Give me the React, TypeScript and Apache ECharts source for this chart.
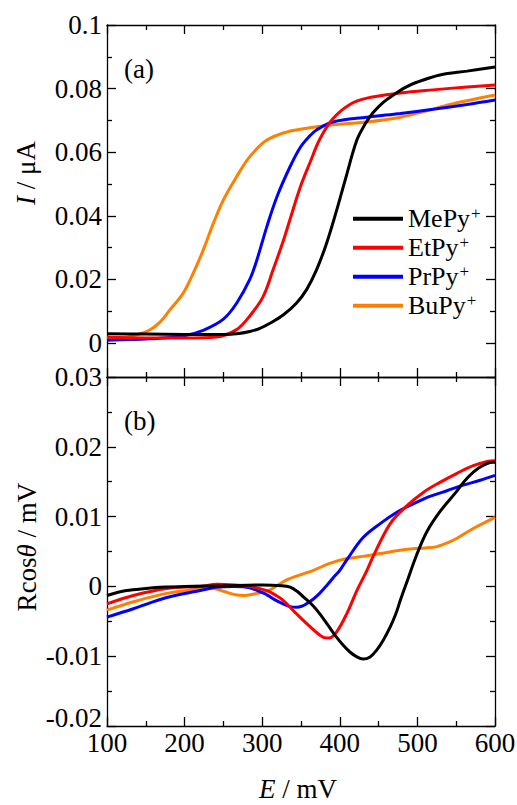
import React, { useEffect, useRef } from "react";
import * as echarts from "echarts";

// ---- Data ----
const seriesNames = ["MePy+", "EtPy+", "PrPy+", "BuPy+"];
const seriesColors = ["#000000", "#ff0000", "#0000ff", "#ff8000"];

// Panel (a): current I / µA vs E / mV
const mePyTopE = [100, 150, 200, 250, 270, 284, 297, 310, 327, 344, 357, 370, 383, 396, 407, 422, 433, 443, 456, 469, 484, 499, 529, 564, 600];
const mePyTopI = [0.0029, 0.0028, 0.0027, 0.0027, 0.003, 0.0036, 0.0046, 0.0062, 0.0088, 0.0125, 0.0167, 0.023, 0.0314, 0.0418, 0.0513, 0.0638, 0.069, 0.0725, 0.0757, 0.078, 0.0803, 0.082, 0.0843, 0.0855, 0.0868];

const etPyTopE = [100, 150, 200, 241, 267, 284, 301, 314, 327, 336, 349, 362, 374, 391, 413, 435, 478, 520, 564, 600];
const etPyTopI = [0.0018, 0.0016, 0.0016, 0.0019, 0.0042, 0.0085, 0.0145, 0.023, 0.032, 0.039, 0.049, 0.057, 0.064, 0.0705, 0.075, 0.077, 0.0786, 0.0796, 0.0805, 0.0811];

const prPyTopE = [100, 155, 198, 224, 250, 267, 284, 293, 306, 319, 336, 349, 360, 370, 391, 435, 478, 520, 564, 600];
const prPyTopI = [0.0009, 0.0013, 0.0022, 0.004, 0.0075, 0.0125, 0.02, 0.026, 0.0366, 0.046, 0.0555, 0.0615, 0.0648, 0.067, 0.0695, 0.071, 0.0722, 0.0735, 0.075, 0.0764];

const buPyTopE = [100, 125, 140, 155, 168, 181, 198, 211, 224, 237, 250, 267, 284, 306, 332, 349, 391, 435, 478, 512, 542, 570, 600];
const buPyTopI = [0.0012, 0.0018, 0.0027, 0.0041, 0.0065, 0.0104, 0.0156, 0.0219, 0.0292, 0.0376, 0.045, 0.0523, 0.0586, 0.0638, 0.0664, 0.0672, 0.0686, 0.0695, 0.071, 0.073, 0.075, 0.0765, 0.078];

// Panel (b): Rcos(theta) / mV vs E / mV
const mePyBotE = [100, 125, 150, 175, 200, 250, 300, 325, 336, 345, 353, 364, 374, 385, 396, 405, 413, 422, 430, 439, 447, 456, 465, 472, 478, 486, 499, 512, 529, 549, 564, 581, 597, 600];
const mePyBotR = [-0.0013, -0.0006, -0.0003, -0.0001, 0, 0.0001, 0.0002, 0.0001, -0.0001, -0.0007, -0.0015, -0.0026, -0.0039, -0.0056, -0.0073, -0.0085, -0.0094, -0.0101, -0.0104, -0.0101, -0.0092, -0.0077, -0.0058, -0.004, -0.002, 0.0005, 0.0045, 0.0078, 0.0107, 0.0134, 0.0155, 0.0171, 0.0178, 0.0178];

const etPyBotE = [100, 134, 177, 220, 242, 265, 284, 306, 318, 327, 344, 362, 379, 386, 396, 409, 422, 435, 443, 465, 487, 508, 529, 551, 572, 590, 600];
const etPyBotR = [-0.0025, -0.0013, -0.0003, 0, 0.0003, 0.0002, 0, -0.0006, -0.0013, -0.002, -0.0039, -0.0058, -0.0073, -0.0074, -0.0065, -0.0039, -0.0006, 0.0023, 0.0043, 0.009, 0.0116, 0.0135, 0.0149, 0.0162, 0.0173, 0.0179, 0.018];

const prPyBotE = [100, 134, 177, 220, 242, 263, 284, 306, 316, 327, 336, 344, 352, 357, 366, 374, 383, 392, 400, 409, 430, 452, 473, 494, 516, 538, 559, 581, 600];
const prPyBotR = [-0.0044, -0.0032, -0.0016, -0.0006, -0.0001, 0, -0.0002, -0.0012, -0.0019, -0.0025, -0.0029, -0.003, -0.0028, -0.0025, -0.0018, -0.001, 0.0001, 0.0013, 0.0023, 0.0038, 0.007, 0.009, 0.0106, 0.0118, 0.0129, 0.0137, 0.0145, 0.0152, 0.0159];

const buPyBotE = [100, 134, 177, 220, 237, 250, 265, 278, 293, 310, 331, 353, 366, 387, 409, 430, 452, 473, 494, 510, 525, 540, 551, 572, 600];
const buPyBotR = [-0.0034, -0.0022, -0.001, -0.0004, -0.0003, -0.0007, -0.0012, -0.0013, -0.001, -0.0005, 0.0009, 0.0018, 0.0023, 0.0033, 0.004, 0.0043, 0.0047, 0.0051, 0.0054, 0.0055, 0.0057, 0.0063, 0.0069, 0.0083, 0.0099];

// Axis tick values
const xTicks = { min: 100, max: 600, interval: 100 };
const topYTicks = { min: 0, max: 0.1, interval: 0.02 };
const botYTicks = { min: -0.02, max: 0.03, interval: 0.01 };

const topE = [mePyTopE, etPyTopE, prPyTopE, buPyTopE];
const topI = [mePyTopI, etPyTopI, prPyTopI, buPyTopI];
const botE = [mePyBotE, etPyBotE, prPyBotE, buPyBotE];
const botR = [mePyBotR, etPyBotR, prPyBotR, buPyBotR];

const FONT = "Liberation Serif, Times New Roman, serif";
const FS = 27;
const axisLineStyle = { color: "#000", width: 1.3 };

function pairs(xs: number[], ys: number[]) {
  return xs.map((x, i) => [x, ys[i]]);
}

export default function App() {
  const ref = useRef<HTMLDivElement>(null);
  useEffect(() => {
    if (!ref.current) return;
    const chart = echarts.init(ref.current, null, { renderer: "svg" });

    const gridBase = { left: 107, right: 22, containLabel: false, outerBoundsMode: "none" };

    const xBase = (gridIndex: number, position: string, labels: boolean) => ({
      type: "value",
      gridIndex,
      position,
      min: xTicks.min,
      max: xTicks.max,
      interval: xTicks.interval,
      axisLine: { show: true, onZero: false, lineStyle: axisLineStyle },
      axisTick: { show: true, inside: true, length: 9, lineStyle: axisLineStyle },
      minorTick: { show: true, splitNumber: 2, length: 5, lineStyle: axisLineStyle },
      splitLine: { show: false },
      axisLabel: {
        show: labels,
        color: "#000",
        fontFamily: FONT,
        fontSize: FS,
        margin: 3,
      },
    });

    const yBase = (
      gridIndex: number,
      position: string,
      t: { min: number; max: number; interval: number } | null,
      labels: boolean
    ) => ({
      type: "value",
      gridIndex,
      position,
      min: t ? t.min : 0,
      max: t ? t.max : 1,
      interval: t ? t.interval : 1,
      axisLine: { show: true, onZero: false, lineStyle: axisLineStyle },
      axisTick: { show: !!t, inside: true, length: 9, lineStyle: axisLineStyle },
      minorTick: { show: !!t, splitNumber: 2, length: 5, lineStyle: axisLineStyle },
      splitLine: { show: false },
      axisLabel: {
        show: labels,
        color: "#000",
        fontFamily: FONT,
        fontSize: FS,
        margin: 5,
        formatter: (v: number) => {
          const s = Math.abs(v) < 1e-9 ? "0" : String(parseFloat(v.toFixed(4)));
          return t && Math.abs(v - t.min) < 1e-9 && t.min < 0 ? `{lo|${s}}` : s;
        },
        rich: {
          lo: { fontFamily: FONT, fontSize: FS, color: "#000", lineHeight: 16, padding: [0, 0, 16, 0] },
        },
      },
    });

    const series: any[] = [];
    for (let k = 0; k < 4; k++) {
      series.push({
        type: "line",
        name: seriesNames[k],
        xAxisIndex: 0,
        yAxisIndex: 0,
        data: pairs(topE[k], topI[k]),
        symbol: "none",
        smooth: 0.35,
        lineStyle: { color: seriesColors[k], width: 3 },
        itemStyle: { color: seriesColors[k] },
        z: 10 - k,
      });
    }
    for (let k = 0; k < 4; k++) {
      series.push({
        type: "line",
        name: seriesNames[k],
        xAxisIndex: 2,
        yAxisIndex: 4,
        data: pairs(botE[k], botR[k]),
        symbol: "none",
        smooth: 0.35,
        lineStyle: { color: seriesColors[k], width: 3 },
        itemStyle: { color: seriesColors[k] },
        z: 10 - k,
      });
    }

    chart.setOption({
      animation: false,
      backgroundColor: "#fff",
      grid: [
        { ...gridBase, top: 25, height: 318 },
        { ...gridBase, top: 343, height: 34 },
        { ...gridBase, top: 377, height: 349 },
      ],
      xAxis: [
        xBase(0, "top", false),
        xBase(1, "bottom", false),
        xBase(2, "top", false),
        xBase(2, "bottom", true),
      ],
      yAxis: [
        yBase(0, "left", topYTicks, true),
        yBase(0, "right", topYTicks, false),
        yBase(1, "left", null, false),
        yBase(1, "right", null, false),
        yBase(2, "left", botYTicks, true),
        yBase(2, "right", botYTicks, false),
      ],
      legend: {
        data: seriesNames,
        orient: "vertical",
        left: 348,
        top: 200,
        icon: "rect",
        itemWidth: 50,
        itemHeight: 4,
        itemGap: 0,
        formatter: (name: string) => `{n|${name.replace("+", "")}}{s|+}`,
        textStyle: {
          color: "#000",
          fontFamily: FONT,
          rich: {
            n: { fontSize: 26, lineHeight: 27.5, fontFamily: FONT, color: "#000" },
            s: { fontSize: 17, lineHeight: 27.5, fontFamily: FONT, color: "#000", verticalAlign: "top", padding: [0, 0, 12, 1] },
          },
        },
      },
      graphic: [
        {
          type: "text",
          x: 26,
          y: 173,
          rotation: Math.PI / 2,
          style: {
            text: "{i|I} / μA",
            fill: "#000",
            font: `${FS}px ${FONT}`,
            align: "center",
            verticalAlign: "middle",
            rich: { i: { fontStyle: "italic", fontSize: FS, fontFamily: FONT } },
          },
        },
        {
          type: "text",
          x: 27,
          y: 547,
          rotation: Math.PI / 2,
          style: {
            text: "Rcos{i|θ} / mV",
            fill: "#000",
            font: `${FS}px ${FONT}`,
            align: "center",
            verticalAlign: "middle",
            rich: { i: { fontStyle: "italic", fontSize: FS, fontFamily: FONT } },
          },
        },
        {
          type: "text",
          x: 298,
          y: 789,
          style: {
            text: "{i|E} / mV",
            fill: "#000",
            font: `${FS}px ${FONT}`,
            align: "center",
            verticalAlign: "middle",
            rich: { i: { fontStyle: "italic", fontSize: FS, fontFamily: FONT } },
          },
        },
        {
          type: "text",
          x: 124,
          y: 69,
          style: { text: "(a)", fill: "#000", font: `${FS}px ${FONT}`, align: "left", verticalAlign: "middle" },
        },
        {
          type: "text",
          x: 124,
          y: 421,
          style: { text: "(b)", fill: "#000", font: `${FS}px ${FONT}`, align: "left", verticalAlign: "middle" },
        },
      ],
      series,
    });
    return () => chart.dispose();
  }, []);

  return (
    <div
      ref={ref}
      style={{ position: "fixed", left: 0, top: 0, width: 517, height: 805, background: "#fff" }}
    />
  );
}
